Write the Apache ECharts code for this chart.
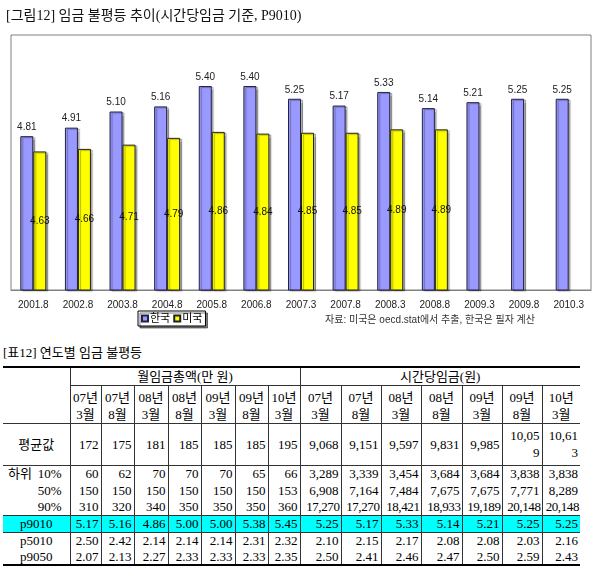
<!DOCTYPE html>
<html>
<head>
<meta charset="utf-8">
<script src="https://cdn.jsdelivr.net/npm/echarts@6/dist/echarts.min.js"></script>
<style>
  body { margin: 0; background: #fff; font-family: "Liberation Serif", "Noto Sans CJK KR", serif; color: #000; }
  #chart { position: absolute; left: 0; top: 0; width: 598px; height: 340px; }
  #tblTitle { position: absolute; left: 3px; top: 342px; font-size: 13px; }
  #tbl { position: absolute; left: 3px; top: 366px; border-collapse: collapse; table-layout: fixed; font-size: 13px; }
  #tbl td { padding: 0 2px; text-align: right; vertical-align: middle; line-height: 15px; white-space: nowrap; overflow: hidden; }
  #tbl td.v { border-left: 1px solid #333; }
  #tbl td.c { text-align: center; }
  #tbl tr.top td { border-top: 2px solid #000; }
  #tbl tr.bl td { border-bottom: 1px solid #333; }
  #tbl tr.bb td { border-bottom: 2px solid #000; }
  #tbl tr.cy td { background: #00ffff; }
</style>
</head>
<body>
<div id="chart"></div>
<div id="tblTitle">[표12] 연도별 임금 불평등</div>
<table id="tbl"></table>
<script>
'use strict';
// 그림 데이터
var categories = ['2001.8', '2002.8', '2003.8', '2004.8', '2005.8', '2006.8', '2007.3', '2007.8', '2008.3', '2008.8', '2009.3', '2009.8', '2010.3'];
var korea = [4.81, 4.91, 5.10, 5.16, 5.40, 5.40, 5.25, 5.17, 5.33, 5.14, 5.21, 5.25, 5.25];
var usa = [4.63, 4.66, 4.71, 4.79, 4.86, 4.84, 4.85, 4.85, 4.89, 4.89, null, null, null];

// 표 데이터
var periodYears = ['07년', '07년', '08년', '08년', '09년', '09년', '10년'];
var periodMonths = ['3월', '8월', '3월', '8월', '3월', '8월', '3월'];
var rowLabels = ['평균값', '10%', '50%', '90%', 'p9010', 'p5010', 'p9050'];
var monthly = [
    ['172', '175', '181', '185', '185', '185', '195'],
    ['60', '62', '70', '70', '70', '65', '66'],
    ['150', '150', '150', '150', '150', '150', '153'],
    ['310', '320', '340', '350', '350', '350', '360'],
    ['5.17', '5.16', '4.86', '5.00', '5.00', '5.38', '5.45'],
    ['2.50', '2.42', '2.14', '2.14', '2.14', '2.31', '2.32'],
    ['2.07', '2.13', '2.27', '2.33', '2.33', '2.33', '2.35']
];
var hourly = [
    ['9,068', '9,151', '9,597', '9,831', '9,985', '10,059', '10,613'],
    ['3,289', '3,339', '3,454', '3,684', '3,684', '3,838', '3,838'],
    ['6,908', '7,164', '7,484', '7,675', '7,675', '7,771', '8,289'],
    ['17,270', '17,270', '18,421', '18,933', '19,189', '20,148', '20,148'],
    ['5.25', '5.17', '5.33', '5.14', '5.21', '5.25', '5.25'],
    ['2.10', '2.15', '2.17', '2.08', '2.08', '2.03', '2.16'],
    ['2.50', '2.41', '2.46', '2.47', '2.50', '2.59', '2.43']
];

var fontStack = '"Liberation Serif", "Noto Sans CJK KR", serif';
var sansStack = '"Liberation Sans", "Noto Sans CJK KR", sans-serif';

var myChart = echarts.init(document.getElementById('chart'));
var option = {
    animation: false,
    title: {
        text: '[그림12] 임금 불평등 추이(시간당임금 기준, P9010)',
        left: 1, top: 4,
        textStyle: { fontSize: 14, fontWeight: 'normal', color: '#111', fontFamily: fontStack }
    },
    legend: {
        left: 138, top: 311,
        itemWidth: 6, itemHeight: 6, itemGap: 3,
        padding: [2, 3],
        borderColor: '#000', borderWidth: 1,
        shadowColor: 'rgba(0,0,0,0.5)', shadowOffsetX: 2, shadowOffsetY: 2, shadowBlur: 0,
        backgroundColor: '#fff',
        icon: 'rect',
        textStyle: { fontSize: 11, color: '#000', fontFamily: sansStack, padding: [0, 0, 0, -3] },
        data: ['한국', '미국']
    },
    grid: {
        left: 11, right: 7, top: 35, bottom: 50,
        show: true, borderColor: '#808080', borderWidth: 1, backgroundColor: '#fff'
    },
    xAxis: {
        type: 'category',
        data: categories,
        axisLine: { lineStyle: { color: '#808080' } },
        axisTick: { show: false },
        axisLabel: { fontSize: 10, color: '#222', margin: 10, fontFamily: sansStack, interval: 0 }
    },
    yAxis: {
        type: 'value', min: 3, max: 6, show: false,
        splitLine: { show: false }
    },
    series: [
        {
            name: '한국', type: 'bar', data: korea,
            barWidth: 13, barGap: '0%',
            itemStyle: { color: '#9999ff', borderColor: '#222244', borderWidth: 1,
                shadowColor: 'rgba(0,0,0,0.3)', shadowOffsetX: 2, shadowOffsetY: 1, shadowBlur: 1 },
            label: {
                show: true, position: 'top', distance: 4,
                fontSize: 10, color: '#222', fontFamily: sansStack,
                formatter: function (p) { return p.value.toFixed(2); }
            }
        },
        {
            name: '미국', type: 'bar', data: usa,
            barWidth: 13,
            itemStyle: { color: '#ffff00', borderColor: '#222', borderWidth: 1,
                shadowColor: 'rgba(0,0,0,0.3)', shadowOffsetX: 2, shadowOffsetY: 1, shadowBlur: 1 },
            label: {
                show: true, position: 'inside',
                fontSize: 10, color: '#111', fontFamily: sansStack,
                formatter: function (p) { return p.value == null ? '' : p.value.toFixed(2); }
            }
        }
    ],
    graphic: [{
        type: 'text', left: 325, top: 315,
        style: { text: '자료: 미국은 oecd.stat에서 추출, 한국은 필자 계산', fontSize: 10, fill: '#333', fontFamily: sansStack }
    }]
};
myChart.setOption(option);

// 표 만들기
var colW = [67, 31, 33, 34, 33, 34, 33, 32, 41, 40, 40, 41, 40, 40, 38];
var rowH = [42, 17, 17, 16, 17, 16, 17];
var html = '<colgroup>';
colW.forEach(function (w) { html += '<col style="width:' + w + 'px">'; });
html += '</colgroup>';
html += '<tr class="top" style="height:18px"><td rowspan="2" style="border-bottom:1px solid #333"></td>' +
    '<td class="v c" colspan="7" style="border-bottom:1px solid #333">월임금총액(만 원)</td>' +
    '<td class="v c" colspan="7" style="border-bottom:1px solid #333">시간당임금(원)</td></tr>';
html += '<tr class="bl" style="height:38px">';
for (var g = 0; g < 2; g++) {
    for (var i = 0; i < periodYears.length; i++) {
        html += '<td class="v c" style="line-height:17px;vertical-align:bottom">' + periodYears[i] + '<br>' + periodMonths[i] + '</td>';
    }
}
html += '</tr>';
for (var r = 0; r < rowLabels.length; r++) {
    var cls = '';
    if (r === 0 || r === 3 || r === 4) cls = 'bl';
    if (r === 6) cls = 'bb';
    if (r === 4) cls += ' cy';
    var label;
    if (r === 0 || r >= 4) label = '<td class="c">' + rowLabels[r] + '</td>';
    else if (r === 1) label = '<td style="text-align:left;padding-left:5px;padding-right:8px"><span>하위</span><span style="float:right">' + rowLabels[r] + '</span></td>';
    else label = '<td style="padding-right:8px">' + rowLabels[r] + '</td>';
    html += '<tr class="' + cls + '" style="height:' + rowH[r] + 'px">' + label;
    monthly[r].forEach(function (v) { html += '<td class="v">' + v + '</td>'; });
    hourly[r].forEach(function (v) {
        if (r === 0 && v.length > 5) {
            // 원 표처럼 칸이 좁아 줄이 넘어감
            html += '<td class="v" style="line-height:17px">' + v.slice(0, 5) + '<br>' + v.slice(5) + '</td>';
        } else if (r === 3) {
            html += '<td class="v" style="padding:0 1px;letter-spacing:-0.4px">' + v + '</td>';
        } else {
            html += '<td class="v">' + v + '</td>';
        }
    });
    html += '</tr>';
}
document.getElementById('tbl').innerHTML = html;
</script>
</body>
</html>
